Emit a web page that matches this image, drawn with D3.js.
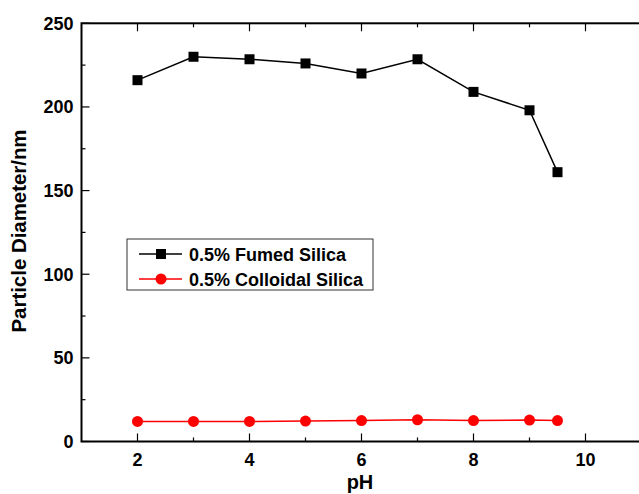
<!DOCTYPE html>
<html>
<head>
<meta charset="utf-8">
<script src="https://cdn.jsdelivr.net/npm/d3@7"></script>
<style>
  body { margin: 0; background: #fff; }
  text { font-family: "Liberation Sans", Arial, sans-serif; font-weight: bold; }
</style>
</head>
<body>
<div id="container"></div>
<script>
/* DATA */
const phValues = [2, 3, 4, 5, 6, 7, 8, 9, 9.5];
const fumedSilica = [216, 230, 228.5, 226, 220, 228.5, 209, 198, 161];
const colloidalSilica = [12, 12, 12, 12.2, 12.5, 13, 12.5, 12.8, 12.5];
const seriesNames = ["0.5% Fumed Silica", "0.5% Colloidal Silica"];
const xTicks = [2, 4, 6, 8, 10];
const yTicks = [0, 50, 100, 150, 200, 250];

const width = 639;
const height = 494;

const svg = d3.select("#container").append("svg")
  .attr("width", width)
  .attr("height", height);

/* SCALES */
const xScale = d3.scaleLinear()
  .domain([1, 11])
  .range([81.5, 641.5]);

const yScale = d3.scaleLinear()
  .domain([0, 250])
  .range([441.5, 23.3]);

const x0 = xScale(1), x1 = xScale(11);
const y0 = yScale(0), y1 = yScale(250);

// frame
svg.append("rect")
  .attr("x", x0).attr("y", y1)
  .attr("width", x1 - x0).attr("height", y0 - y1)
  .attr("fill", "none").attr("stroke", "#000").attr("stroke-width", 2);

// ticks (inward)
const minorX = d3.range(2, 11, 1);
const minorY = d3.range(0, 251, 25);

svg.append("g").selectAll("line")
  .data(minorX)
  .join("line")
  .attr("x1", d => xScale(d)).attr("x2", d => xScale(d))
  .attr("y1", y0).attr("y2", d => y0 - (d % 2 === 0 ? 8 : 4))
  .attr("stroke", "#000").attr("stroke-width", 1.2);

svg.append("g").selectAll("line")
  .data(minorX)
  .join("line")
  .attr("x1", d => xScale(d)).attr("x2", d => xScale(d))
  .attr("y1", y1).attr("y2", d => y1 + (d % 2 === 0 ? 8 : 4))
  .attr("stroke", "#000").attr("stroke-width", 1.2);

svg.append("g").selectAll("line")
  .data(minorY)
  .join("line")
  .attr("x1", x0).attr("x2", d => x0 + (d % 50 === 0 ? 8 : 4))
  .attr("y1", d => yScale(d)).attr("y2", d => yScale(d))
  .attr("stroke", "#000").attr("stroke-width", 1.2);

// tick labels
svg.append("g").selectAll("text")
  .data(xTicks)
  .join("text")
  .attr("x", d => xScale(d))
  .attr("y", y0 + 24)
  .attr("text-anchor", "middle")
  .attr("font-size", 18)
  .text(d => d);

svg.append("g").selectAll("text")
  .data(yTicks)
  .join("text")
  .attr("x", x0 - 8)
  .attr("y", d => yScale(d) + 6.5)
  .attr("text-anchor", "end")
  .attr("font-size", 18)
  .text(d => d);

// axis titles
svg.append("text")
  .attr("x", 360)
  .attr("y", 489)
  .attr("text-anchor", "middle")
  .attr("font-size", 20)
  .text("pH");

svg.append("text")
  .attr("transform", `translate(26, 231) rotate(-90)`)
  .attr("text-anchor", "middle")
  .attr("font-size", 20)
  .attr("textLength", 203)
  .attr("lengthAdjust", "spacingAndGlyphs")
  .text("Particle Diameter/nm");

/* LINES */
const line = d3.line()
  .x(d => xScale(d[0]))
  .y(d => yScale(d[1]));

const fumed = phValues.map((p, i) => [p, fumedSilica[i]]);
const colloidal = phValues.map((p, i) => [p, colloidalSilica[i]]);

svg.append("path")
  .datum(fumed)
  .attr("d", line)
  .attr("fill", "none")
  .attr("stroke", "#000")
  .attr("stroke-width", 1.5);

svg.selectAll("rect.fumed")
  .data(fumed)
  .join("rect")
  .attr("class", "fumed")
  .attr("x", d => xScale(d[0]) - 5)
  .attr("y", d => yScale(d[1]) - 5)
  .attr("width", 10).attr("height", 10)
  .attr("fill", "#000");

svg.append("path")
  .datum(colloidal)
  .attr("d", line)
  .attr("fill", "none")
  .attr("stroke", "#ff0000")
  .attr("stroke-width", 1.5);

svg.selectAll("circle.colloidal")
  .data(colloidal)
  .join("circle")
  .attr("class", "colloidal")
  .attr("cx", d => xScale(d[0]))
  .attr("cy", d => yScale(d[1]))
  .attr("r", 5.5)
  .attr("fill", "#ff0000");

/* LEGEND */
const legend = svg.append("g").attr("transform", "translate(127, 239)");
legend.append("rect")
  .attr("width", 246).attr("height", 51)
  .attr("fill", "#fff").attr("stroke", "#333").attr("stroke-width", 1);

const colors = ["#000", "#ff0000"];
seriesNames.forEach((name, i) => {
  const g = legend.append("g").attr("transform", `translate(0, ${15 + i * 25})`);
  g.append("line")
    .attr("x1", 12).attr("x2", 55)
    .attr("stroke", colors[i]).attr("stroke-width", 1.5);
  if (i === 0) {
    g.append("rect").attr("x", 29).attr("y", -5).attr("width", 10).attr("height", 10).attr("fill", colors[i]);
  } else {
    g.append("circle").attr("cx", 34).attr("r", 5.5).attr("fill", colors[i]);
  }
  g.append("text")
    .attr("x", 62).attr("y", 6.5)
    .attr("font-size", 18)
    .text(name);
});
</script>
</body>
</html>
